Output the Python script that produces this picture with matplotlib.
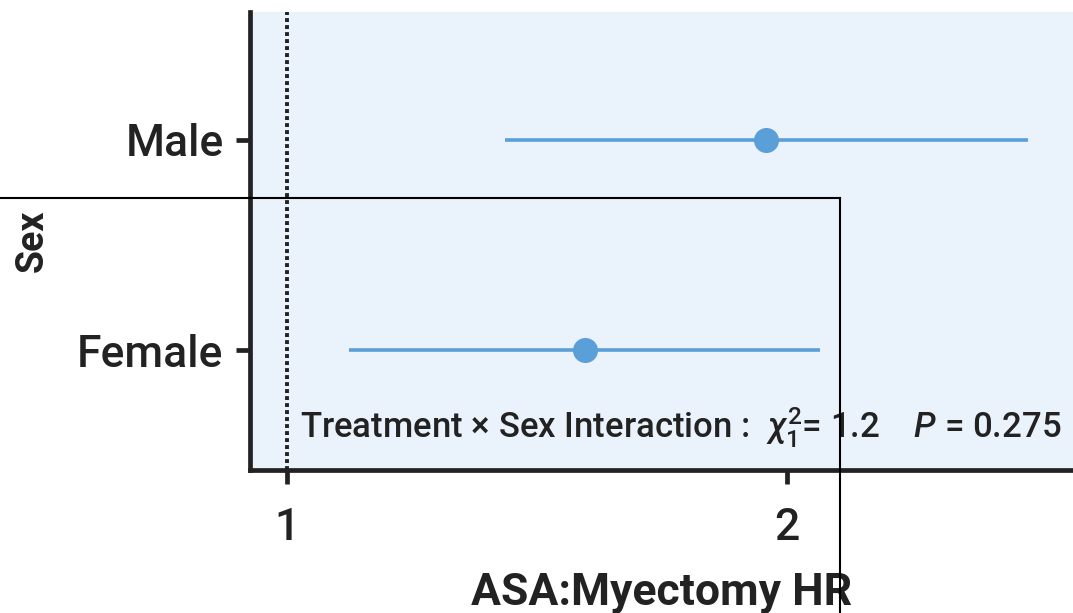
import matplotlib
matplotlib.use("Agg")
import matplotlib.pyplot as plt
from matplotlib.lines import Line2D

# Hazard ratio per subgroup
groups = ["Female", "Male"]
hr = [1.596, 1.958]
ci_low = [1.124, 1.436]
ci_high = [2.066, 2.482]
x_ticks = [1, 2]
note = r"Treatment $\times$ Sex Interaction :  $\chi^2_1$= 1.2    $P$ = 0.275"

family = "Roboto"
plt.rcParams["font.family"] = [family, "DejaVu Sans"]
plt.rcParams["font.weight"] = "medium"
plt.rcParams["mathtext.fontset"] = "custom"
plt.rcParams["mathtext.rm"] = family + ":medium"
plt.rcParams["mathtext.it"] = family + ":italic:medium"

W, H = 1073, 613
fig = plt.figure(figsize=(W / 100, H / 100), dpi=100)
ax = fig.add_axes([250 / W, 1 - 470 / H, 1 - 250 / W, (470 - 12) / H])
ax.set_facecolor("#eaf2fb")

blue = "#5b9fd9"
ypos = list(range(1, len(groups) + 1))
for y, m, lo, hi in zip(ypos, hr, ci_low, ci_high):
    ax.plot([lo, hi], [y, y], color=blue, lw=2.6, solid_capstyle="butt", zorder=3)
    ax.plot(m, y, "o", color=blue, ms=17, zorder=4)

ax.axvline(1, color="#222222", lw=2.8, ls=(0, (1.0, 0.8)), zorder=2)

ax.set_xlim(0.926, 2.572)
ax.set_ylim(0.4286, 2.6095)
ax.set_xticks(x_ticks)
ax.set_xticklabels([str(t) for t in x_ticks])
ax.set_yticks(ypos)
ax.set_yticklabels(groups)
ax.tick_params(axis="both", length=10, width=3.4, color="#222222",
               labelsize=32, labelcolor="#222222")
ax.tick_params(axis="x", pad=17)
ax.tick_params(axis="y", pad=9)

for side in ["top", "right"]:
    ax.spines[side].set_visible(False)
for side in ["left", "bottom"]:
    ax.spines[side].set_linewidth(3.4)
    ax.spines[side].set_color("#222222")

# the x label runs slightly past the bottom edge of the figure
ax.set_xlabel("ASA:Myectomy HR", fontsize=32, fontweight="bold",
              color="#222222", labelpad=16)
ax.set_ylabel("Sex", fontsize=27, fontweight="bold", color="#222222", labelpad=19)

ax.text(1.026, 0.629, note, fontsize=25, color="#222222", va="center", ha="left")

# thin frame lines over the figure
fig.add_artist(Line2D([0, 840 / W], [1 - 198 / H, 1 - 198 / H],
                      transform=fig.transFigure, color="black", lw=1.5))
fig.add_artist(Line2D([840 / W, 840 / W], [1 - 198 / H, 0],
                      transform=fig.transFigure, color="black", lw=1.5))

fig.savefig("out.png", dpi=100)
